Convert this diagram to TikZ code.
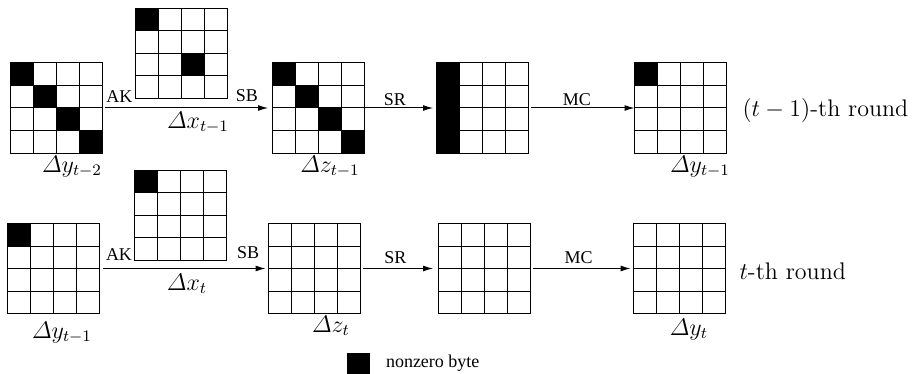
\documentclass[tikz,border=0pt]{standalone}
\usepackage{amsmath}
\usepackage{fontspec}
\newfontfamily\opfont{Liberation Serif}
\usetikzlibrary{arrows.meta,calc,positioning}

\tikzset{
  state/.style={draw, minimum width=46pt, minimum height=45pt, inner sep=0pt, outer sep=0pt},
  oplabel/.style={font=\opfont\fontsize{9}{10}\selectfont, inner sep=0pt},
  varlabel/.style={font=\fontsize{12}{14}\selectfont, anchor=base},
  roundlabel/.style={font=\fontsize{12}{14}\selectfont, anchor=base west, inner sep=0pt},
}
% Gitterlinien im Zustand #1
\newcommand\stategrid[1]{%
  \foreach \k in {1,2,3} {
    \draw ($(#1.north west)!\k/4!(#1.north east)$) -- ($(#1.south west)!\k/4!(#1.south east)$);
    \draw ($(#1.north west)!\k/4!(#1.south west)$) -- ($(#1.north east)!\k/4!(#1.south east)$);
  }}
% Byte (Spalte #2, Zeile #3) im Zustand #1
\newcommand\nzbyte[3]{\fill ($(#1.north west)+(#2*23,#3*22.5)$) rectangle +(23,22.5);}

\begin{document}
\begin{tikzpicture}[x=0.5pt, y=-0.5pt, line width=0.5pt, >={Latex[length=5pt,width=3pt]}]
  \useasboundingbox (0,0) rectangle (920,374);
  % Runde t-1
  \node[state] (y2) at (56.5,108) {};
  \node[state] (x1) at (181.5,53.5) {};
  \node[state] (z1) at (318,108) {};
  \node[state] (w1) at (482,108) {};
  \node[state] (y1) at (680.5,108) {};
  % Runde t
  \node[state] (y1b) at (53,268.5) {};
  \node[state] (x0) at (180,215) {};
  \node[state] (z0) at (314.5,268.5) {};
  \node[state] (w0) at (484,268.5) {};
  \node[state] (y0) at (679.5,268.5) {};
  % aktive Bytes
  \foreach \i in {0,...,3} {
    \nzbyte{y2}{\i}{\i}
    \nzbyte{z1}{\i}{\i}
    \nzbyte{w1}{0}{\i}
  }
  \nzbyte{x1}{0}{0}
  \nzbyte{x1}{2}{2}
  \nzbyte{y1}{0}{0}
  \nzbyte{y1b}{0}{0}
  \nzbyte{x0}{0}{0}
  \foreach \s in {y2,x1,z1,w1,y1,y1b,x0,z0,w0,y0} {
    \stategrid{\s}
  }
  % Pfeile mit Operationen
  \draw[->, shorten <=1pt, shorten >=2pt] (y2.east) -- (z1.west)
    node[oplabel, pos=.10, above=2.7pt] {AK} node[oplabel, pos=.852, above=3pt] {SB};
  \draw[->, shorten >=1.5pt] (z1.east) -- (w1.west) node[oplabel, pos=.43, above=.7pt] {SR};
  \draw[->, shorten <=1.5pt] (w1.east) -- (y1.west) node[oplabel, pos=.46, above=.8pt] {MC};
  \draw[->, shorten <=2pt, shorten >=1.5pt] (y1b.east) -- (z0.west)
    node[oplabel, pos=.118, above=3.6pt] {AK} node[oplabel, pos=.88, above=4.5pt] {SB};
  \draw[->, shorten <=1pt, shorten >=2.5pt] (z0.east) -- (w0.west) node[oplabel, pos=.45, above=2pt] {SR};
  \draw[->, shorten <=1.5pt, shorten >=1.5pt] (w0.east) -- (y0.west) node[oplabel, pos=.47, above=2pt] {MC};
  % Bezeichnungen
  \node[varlabel] (ly2) at (72,172) {$\varDelta y_{t-2}$};
  \node[varlabel] (lx1) at (198,128) {$\varDelta x_{t-1}$};
  \node[varlabel] (lz1) at (330,172) {$\varDelta z_{t-1}$};
  \node[varlabel] (ly1) at (700,172) {$\varDelta y_{t-1}$};
  \node[varlabel] (ly1b) at (62,338) {$\varDelta y_{t-1}$};
  \node[varlabel] (lx0) at (187,290) {$\varDelta x_{t}$};
  \node[varlabel] (lz0) at (331,332) {$\varDelta z_{t}$};
  \node[varlabel] (ly0) at (689,335) {$\varDelta y_{t}$};
  \node[roundlabel] (r1) at (742,117) {$(t-1)$-th round};
  \node[roundlabel] (r0) at (739,279) {$t$-th round};
  % Legende
  \node[fill, minimum width=11.5pt, minimum height=10.5pt, inner sep=0pt] (key) at (358.5,363.5) {};
  \node[oplabel, right=7.5pt of key] (keytext) {nonzero byte};
\end{tikzpicture}
\end{document}
